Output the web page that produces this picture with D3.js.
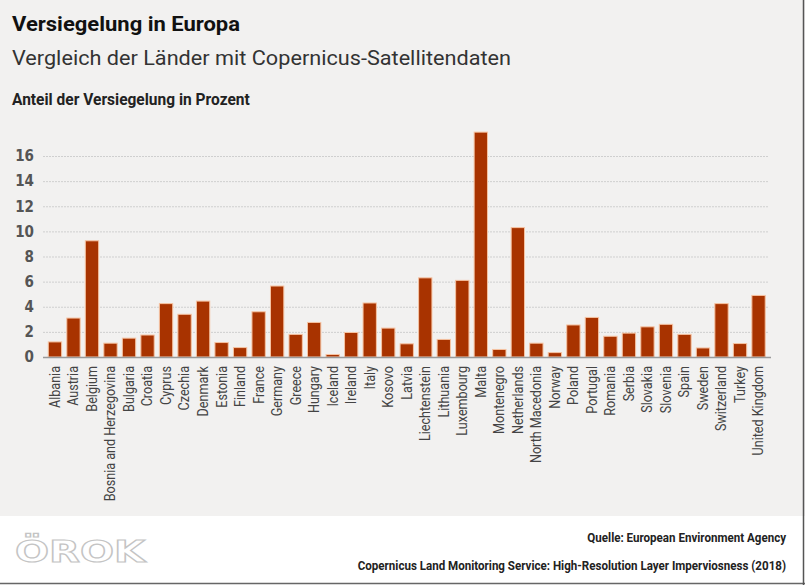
<!DOCTYPE html>
<html>
<head>
<meta charset="utf-8">
<script src="https://cdn.jsdelivr.net/npm/d3@7"></script>
<style>
  body { margin: 0; padding: 0; background: #ffffff; }
  .narrow { font-family: 'DejaVu Sans Condensed', sans-serif; }
</style>
</head>
<body>
<div id="chart"></div>
<script>
// Anteil der versiegelten Flaeche je Land (Prozent)
var countries = ["Albania", "Austria", "Belgium", "Bosnia and Herzegovina", "Bulgaria", "Croatia",
    "Cyprus", "Czechia", "Denmark", "Estonia", "Finland", "France", "Germany", "Greece",
    "Hungary", "Iceland", "Ireland", "Italy", "Kosovo", "Latvia", "Liechtenstein",
    "Lithuania", "Luxembourg", "Malta", "Montenegro", "Netherlands", "North Macedonia",
    "Norway", "Poland", "Portugal", "Romania", "Serbia", "Slovakia", "Slovenia", "Spain",
    "Sweden", "Switzerland", "Turkey", "United Kingdom"];
var sealed = [1.2, 3.1, 9.25, 1.1, 1.5, 1.75,
    4.25, 3.4, 4.45, 1.15, 0.75, 3.6, 5.65, 1.8,
    2.75, 0.2, 1.95, 4.3, 2.3, 1.05, 6.3,
    1.4, 6.1, 17.9, 0.6, 10.3, 1.1,
    0.35, 2.55, 3.15, 1.65, 1.9, 2.4, 2.6, 1.8,
    0.72, 4.25, 1.07, 4.9];
var yTicks = [0, 2, 4, 6, 8, 10, 12, 14, 16];

var title = "Versiegelung in Europa";
var subtitle = "Vergleich der Länder mit Copernicus-Satellitendaten";
var axisTitle = "Anteil der Versiegelung in Prozent";
var source1 = "Quelle: European Environment Agency";
var source2 = "Copernicus Land Monitoring Service: High-Resolution Layer Imperviosness (2018)";

var W = 805, H = 585;
var plotL = 43, plotR = 771, baseY = 357;

var data = countries.map(function(c, i) { return {country: c, value: sealed[i]}; });

var svg = d3.select("#chart").append("svg")
    .attr("width", W)
    .attr("height", H);

// squeeze a text horizontally so it fits a given width (condensed look)
function condensed(x, y, str, size, width, anchor) {
    var t = svg.append("text")
        .style("font-family", "Roboto, sans-serif")
        .style("font-weight", "bold")
        .style("font-size", size + "px")
        .style("fill", "#222")
        .style("text-anchor", anchor)
        .text(str);
    var k = width / t.node().getComputedTextLength();
    t.attr("transform", "translate(" + x + "," + y + ") scale(" + k + ",1)");
    return t;
}

// background panels
svg.append("rect").attr("x", 0).attr("y", 0).attr("width", W).attr("height", 516)
    .attr("fill", "#f2f1f0");
svg.append("rect").attr("x", 0).attr("y", 516).attr("width", W).attr("height", 68)
    .attr("fill", "#ffffff");
svg.append("line").attr("x1", 0).attr("x2", W).attr("y1", 583.5).attr("y2", 583.5)
    .attr("stroke", "#666").attr("stroke-width", 1.5);
svg.append("line").attr("x1", 803.5).attr("x2", 803.5).attr("y1", 0).attr("y2", H)
    .attr("stroke", "#555").attr("stroke-width", 1.5);

// titles
svg.append("text").attr("x", 12).attr("y", 31)
    .style("font-family", "Roboto, sans-serif").style("font-weight", "bold")
    .style("font-size", "21px").style("fill", "#111")
    .attr("textLength", 228).attr("lengthAdjust", "spacingAndGlyphs")
    .text(title);
svg.append("text").attr("x", 12).attr("y", 65)
    .style("font-family", "Roboto, sans-serif")
    .style("font-size", "21px").style("fill", "#333")
    .attr("textLength", 499).attr("lengthAdjust", "spacingAndGlyphs")
    .text(subtitle);
condensed(12, 105, axisTitle, 16, 238, "start");

// scales
var x = d3.scaleBand()
    .domain(countries)
    .range([45.7, 767.8])
    .paddingInner(0.28)
    .paddingOuter(0.14);

var y = d3.scaleLinear()
    .domain([0, 16])
    .range([baseY, baseY - 16 * 12.5625]);

// grid lines
svg.append("g").selectAll("line")
    .data(yTicks.filter(function(t) { return t > 0; }))
    .enter().append("line")
    .attr("x1", plotL).attr("x2", plotR - 2)
    .attr("y1", function(d) { return y(d) + 0.5; })
    .attr("y2", function(d) { return y(d) + 0.5; })
    .attr("stroke", "#cfcfcf")
    .attr("stroke-width", 1)
    .attr("stroke-dasharray", "2,1");

// y axis labels
var yAxis = d3.axisLeft(y).tickValues(yTicks).tickSize(0).tickPadding(0);
var gy = svg.append("g").attr("transform", "translate(34,0)").call(yAxis);
gy.select(".domain").remove();
gy.selectAll("text")
    .attr("class", "narrow")
    .style("font-size", "15px")
    .style("font-weight", "bold")
    .style("fill", "#555");

// bars
svg.append("g").selectAll("rect")
    .data(data)
    .enter().append("rect")
    .attr("x", function(d) { return x(d.country); })
    .attr("y", function(d) { return y(d.value); })
    .attr("width", x.bandwidth())
    .attr("height", function(d) { return baseY - y(d.value); })
    .attr("fill", "#a83300")
    .attr("stroke", "#f6c3a2")
    .attr("stroke-width", 1);

// baseline
svg.append("line").attr("x1", plotL).attr("x2", plotR)
    .attr("y1", baseY + 0.5).attr("y2", baseY + 0.5)
    .attr("stroke", "#999").attr("stroke-width", 1.5);

// x axis labels
var xAxis = d3.axisBottom(x).tickSize(0).tickPadding(0);
var gx = svg.append("g").attr("transform", "translate(0," + (baseY + 9) + ")").call(xAxis);
gx.select(".domain").remove();
gx.selectAll("text")
    .attr("transform", "rotate(-90) scale(0.9,1)")
    .attr("x", 0)
    .attr("y", 0)
    .attr("dy", "0.35em")
    .style("font-family", "Roboto, sans-serif")
    .style("text-anchor", "end")
    .style("font-size", "14px")
    .style("fill", "#444");

// logo
svg.append("text").attr("x", 15).attr("y", 562)
    .style("font-family", "'DejaVu Sans', sans-serif").style("font-weight", "bold")
    .style("font-size", "30px")
    .style("fill", "#ffffff").style("stroke", "#c4c4c4").style("stroke-width", 1.2)
    .attr("textLength", 130).attr("lengthAdjust", "spacingAndGlyphs")
    .text("ÖROK");

// sources, right edge at 786
condensed(786, 542, source1, 13, 199, "end");
condensed(786, 570, source2, 13, 429, "end");
</script>
</body>
</html>
